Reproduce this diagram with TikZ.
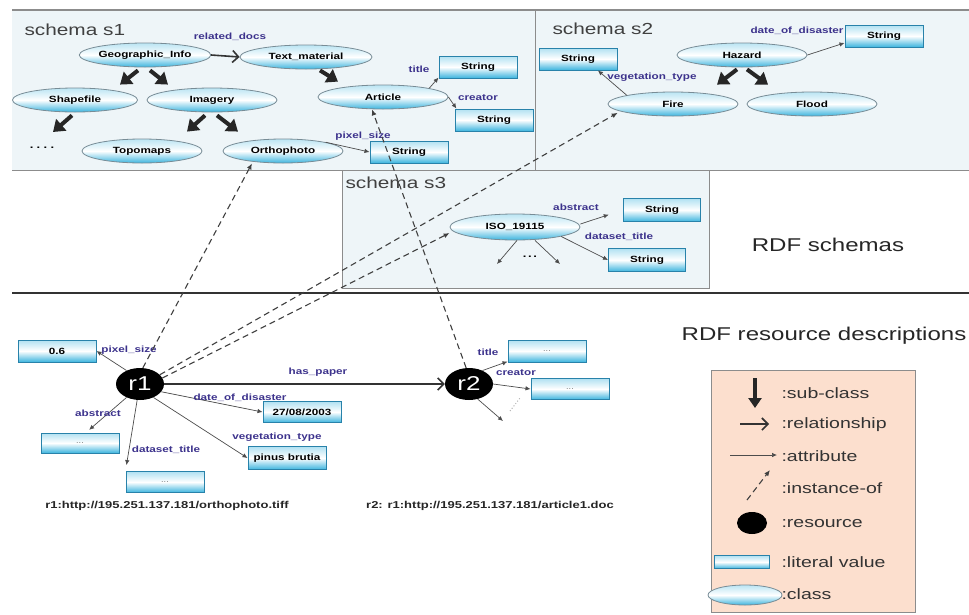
\documentclass[tikz,border=0pt]{standalone}
\usepackage{fontspec}
\setmainfont{Liberation Sans}[FakeStretch=1.3]
\usetikzlibrary{arrows.meta,shapes.geometric}

\definecolor{schemabg}{RGB}{238,245,248}
\definecolor{boxline}{RGB}{140,140,140}
\definecolor{clsline}{RGB}{120,140,150}
\definecolor{clsfill}{RGB}{60,180,222}
\definecolor{litline}{RGB}{40,130,170}
\definecolor{lblcol}{RGB}{60,50,140}
\definecolor{legendbg}{RGB}{252,223,206}

\tikzset{
	cls/.style={ellipse, draw=clsline, line width=0.8pt, top color=clsfill!35, bottom color=clsfill, middle color=white, inner sep=0pt, minimum width=130pt, minimum height=24pt, font=\bfseries\fontsize{9}{10}\selectfont},
	lit/.style={rectangle, draw=litline, line width=1pt, top color=clsfill!40, bottom color=clsfill, middle color=white, inner sep=0pt, minimum width=78pt, minimum height=22pt, font=\bfseries\fontsize{9}{10}\selectfont},
	litmore/.style={lit, font=\fontsize{7}{7}\selectfont, text=black!60},
	res/.style={ellipse, fill=black, text=white, inner sep=0pt, minimum width=48pt, minimum height=32pt, font=\fontsize{20}{20}\selectfont},
	lbl/.style={text=lblcol, font=\bfseries\fontsize{9}{10}\selectfont, inner sep=1pt},
	schemaname/.style={anchor=west, text=black!75, font=\fontsize{16}{18}\selectfont},
	part/.style={text=black!85, font=\fontsize{18.5}{20}\selectfont},
	keytext/.style={anchor=west, text=black!80, font=\fontsize{15}{16}\selectfont},
	url/.style={font=\bfseries\fontsize{10}{12}\selectfont, text=black!85},
	subcls/.style={line width=4pt, draw=black!85, -{Triangle[length=11pt,width=15pt]}},
	rel/.style={line width=1.6pt, draw=black!80, -{Straight Barb[length=6pt,width=12pt]}},
	attr/.style={line width=0.7pt, draw=black!70, -{Latex[length=5pt,width=4.5pt]}},
	inst/.style={line width=1.1pt, draw=black!75, dash pattern=on 6pt off 4pt, -{Latex[length=6pt,width=5pt]}},
}

\begin{document}
\begin{tikzpicture}[x=1pt, y=-1pt]
	\useasboundingbox (0,0) rectangle (969,614);

	% schema panels
	\fill[schemabg] (12,10) rectangle (969,170);
	\draw[boxline, line width=1.5pt] (12,10) -- (969,10);
	\draw[boxline] (12,170) -- (969,170);
	\draw[boxline] (535,10) -- (535,170);
	\filldraw[fill=schemabg, draw=boxline] (342,170) rectangle (709,288);
	\draw[black!80, line width=2.5pt] (12,293) -- (969,293);

	\node[schemaname] (ts1) at (21,30) {schema s1};
	\node[schemaname] (ts2) at (549,29) {schema s2};
	\node[schemaname] (ts3) at (342,183) {schema s3};
	\node[part] (rdfs) at (828,245) {RDF schemas};
	\node[part] (rdfr) at (824,336) {RDF resource descriptions};

	% schema s1
	\node[cls] (geo) at (145,55) {Geographic\_Info};
	\node[cls, minimum width=132pt] (text) at (306,57) {Text\_material};
	\node[cls, minimum width=125pt] (shape) at (75,100) {Shapefile};
	\node[cls] (imag) at (212,100) {Imagery};
	\node[cls, minimum width=120pt] (topo) at (142,151) {Topomaps};
	\node[cls, minimum width=120pt] (ortho) at (283,151) {Orthophoto};
	\node[cls] (art) at (383,97) {Article};
	\node[font=\bfseries] (more1) at (42,148) {.\,\,.\,\,.\,\,.};
	\node[lit] (strtitle) at (478,67) {String};
	\node[lit] (strcre) at (494,120) {String};
	\node[lit] (strpix) at (409,152) {String};

	\draw[rel] (geo.east) -- (text.west);
	\draw[subcls] ([xshift=-7pt,yshift=-3pt]geo.south) -- ([xshift=45pt,yshift=3pt]shape.north);
	\draw[subcls] ([xshift=5pt,yshift=-3pt]geo.south) -- ([xshift=-44pt,yshift=3pt]imag.north);
	\draw[subcls] ([xshift=-3pt,yshift=-3pt]shape.south) -- ([xshift=11pt,yshift=16pt]more1.center);
	\draw[subcls] ([xshift=-7pt,yshift=-3pt]imag.south) -- ([xshift=45pt,yshift=7pt]topo.north);
	\draw[subcls] ([xshift=5pt,yshift=-3pt]imag.south) -- ([xshift=-45pt,yshift=7pt]ortho.north);
	\draw[subcls] ([xshift=14pt,yshift=-1pt]text.south) -- ([xshift=-45pt,yshift=3pt]art.north);
	\draw[attr] (art.north east) -- (strtitle.195);
	\draw[attr] (art.east) -- (strcre.163);
	\draw[attr] (ortho.north east) -- (strpix.west);

	\node[lbl] (lrel) at (230,37) {related\_docs};
	\node[lbl] (ltitle) at (419,69) {title};
	\node[lbl] (lcre) at (478,98) {creator};
	\node[lbl] (lpix) at (363,136) {pixel\_size};

	% schema s2
	\node[lit] (strveg) at (578,59) {String};
	\node[cls] (haz) at (742,55) {Hazard};
	\node[lit] (strdate) at (884,36) {String};
	\node[cls] (fire) at (673,104) {Fire};
	\node[cls] (flood) at (812,104) {Flood};

	\draw[attr] (haz.east) -- (strdate.190);
	\draw[attr] (fire.north west) -- (strveg.-30);
	\draw[subcls] ([xshift=-5pt,yshift=-2pt]haz.south) -- ([xshift=44pt,yshift=7pt]fire.north);
	\draw[subcls] ([xshift=5pt,yshift=-2pt]haz.south) -- ([xshift=-44pt,yshift=7pt]flood.north);

	\node[lbl] (ldate) at (797,31) {date\_of\_disaster};
	\node[lbl] (lveg) at (652,77) {vegetation\_type};

	% schema s3
	\node[cls, minimum height=26pt] (iso) at (515,227) {ISO\_19115};
	\node[lit, minimum width=77pt, minimum height=23pt] (strabs) at (662,210) {String};
	\node[lit, minimum width=77pt, minimum height=23pt] (strds) at (647,260) {String};
	\node[font=\bfseries] (more3) at (530,257) {.\,.\,.};
	\coordinate (isol) at (497,264);
	\coordinate (isor) at (560,264);

	\draw[attr, shorten >=15pt] ([yshift=3pt]iso.east) -- (strabs.west);
	\draw[attr] (iso.south east) -- (strds.west);
	\draw[attr] ([xshift=2pt]iso.south) -- (isol);
	\draw[attr] ([xshift=20pt]iso.south) -- (isor);

	\node[lbl] (labs) at (576,207) {abstract};
	\node[lbl] (lds) at (619,237) {dataset\_title};

	% resource descriptions
	\node[res] (r1) at (140,384) {r1};
	\node[res] (r2) at (469,384) {r2};
	\node[lit] (v06) at (57,351) {0.6};
	\node[lit, minimum height=21pt] (vdate) at (302,412) {27/08/2003};
	\node[lit, minimum height=23pt] (vpinus) at (287,458) {pinus brutia};
	\node[litmore, minimum height=20pt] (vabs) at (80,443) {...};
	\node[litmore, minimum height=21pt] (vds) at (165,482) {...};
	\node[litmore] (vtitle) at (547,351) {...};
	\node[litmore, minimum height=21pt] (vcre) at (570,389) {...};
	\coordinate (r2more) at (503,421);

	\draw[rel] (r1.east) -- (r2.west);
	\draw[attr] (r1.135) -- (v06.east);
	\draw[attr] (r1.-20) -- (vdate.west);
	\draw[attr] (r1.-45) -- (vpinus.west);
	\draw[attr, shorten >=4pt] (r1.-135) -- (vabs.60);
	\draw[attr, shorten >=6pt] (r1.-100) -- (vds.north west);
	\draw[attr] (r2.45) -- (vtitle.195);
	\draw[attr] (r2.east) -- (vcre.west);
	\draw[attr] (r2.-60) -- (r2more);
	\draw[black!30, dotted, line width=1pt] (510,411) -- (520,398);

	\node[lbl] (lpaper) at (318,372) {has\_paper};
	\node[lbl] (lpix2) at (129,350) {pixel\_size};
	\node[lbl] (ldate2) at (240,398) {date\_of\_disaster};
	\node[lbl] (lveg2) at (277,437) {vegetation\_type};
	\node[lbl] (labs2) at (98,413) {abstract};
	\node[lbl] (lds2) at (166,450) {dataset\_title};
	\node[lbl] (ltitle2) at (488,352) {title};
	\node[lbl] (lcre2) at (516,373) {creator};

	% instance-of links
	\draw[inst] (r1.80) -- ([xshift=-31pt]ortho.south);
	\draw[inst] (r1.25) -- ([xshift=-9pt]fire.south west);
	\draw[inst] (r1.15) -- ([yshift=-6pt]iso.west);
	\draw[inst] (r2.100) -- ([xshift=-11pt]art.south);

	\node[url] (u1) at (167,506) {r1:http://195.251.137.181/orthophoto.tiff};
	\node[url] (u2) at (490,506) {r2: r1:http://195.251.137.181/article1.doc};

	% key
	\filldraw[fill=legendbg, draw=boxline] (711,370) rectangle (915,612);
	\draw[line width=3.5pt, draw=black!85, -{Triangle[length=10pt,width=13pt]}] (755,378) -- (755,408);
	\draw[rel] (740,424) -- (769,424);
	\draw[attr] (730,455) -- (777,455);
	\draw[inst] (747,500) -- (770,470);
	\node[res, minimum width=30pt, minimum height=22pt] (kres) at (752,523) {};
	\node[lit, minimum width=55pt, minimum height=13pt] (klit) at (742,562) {};
	\node[cls, minimum width=74pt, minimum height=20pt] (kcls) at (745,595) {};

	\node[keytext] (t1) at (778,393) {:sub-class};
	\node[keytext] (t2) at (778,425) {:relationship};
	\node[keytext] (t3) at (778,456) {:attribute};
	\node[keytext] (t4) at (778,488) {:instance-of};
	\node[keytext] (t5) at (778,524) {:resource};
	\node[keytext] (t6) at (778,562) {:literal value};
	\node[keytext] (t7) at (778,594) {:class};

\end{tikzpicture}
\end{document}
